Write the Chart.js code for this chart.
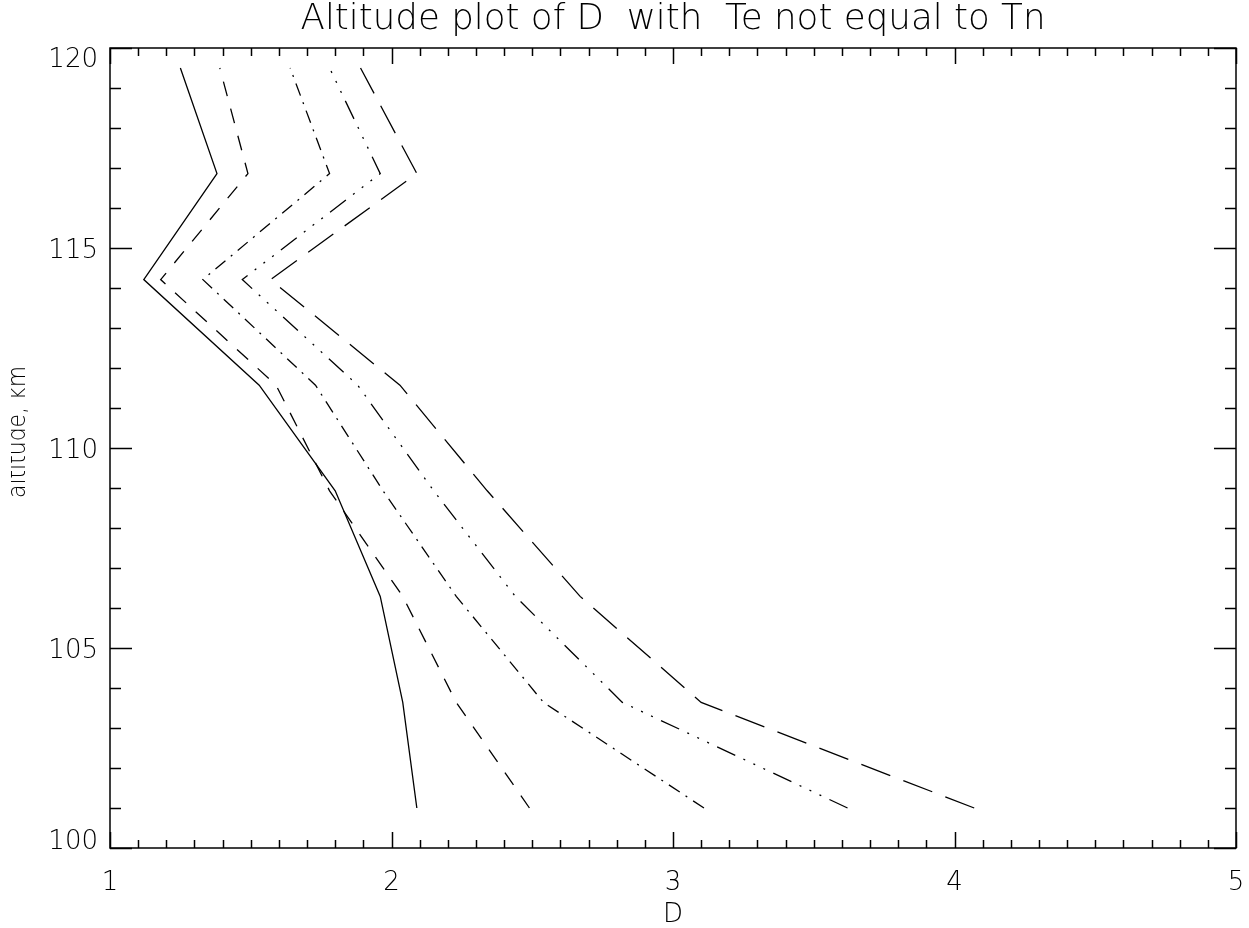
<!DOCTYPE html>
<html>
<head>
<meta charset="utf-8">
<title>Altitude plot of D</title>
<script src="https://cdn.jsdelivr.net/npm/chart.js@4.4.1/dist/chart.umd.min.js"></script>
<style>
  html, body { margin: 0; padding: 0; background: #fff; }
  canvas { display: block; }
</style>
</head>
<body>
<canvas id="graph_D" width="1249" height="928"></canvas>
<script>
/*------------------------------*/
/*            Données           */
/*------------------------------*/
var altitudes = [101.0, 103.64, 106.29, 108.93, 111.57, 114.21, 116.86, 119.5]

var d_solid    = [2.09, 2.04, 1.96, 1.80, 1.53, 1.12, 1.38, 1.25]
var d_dash     = [2.49, 2.23, 2.04, 1.78, 1.59, 1.18, 1.49, 1.39]
var d_dashdot  = [3.11, 2.54, 2.23, 1.97, 1.73, 1.33, 1.78, 1.64]
var d_dash3dot = [3.62, 2.82, 2.44, 2.15, 1.88, 1.47, 1.96, 1.78]
var d_longdash = [4.07, 3.10, 2.67, 2.34, 2.03, 1.57, 2.09, 1.89]

var x_ticks = [1, 2, 3, 4, 5]
var y_ticks = [100, 105, 110, 115, 120]

var FONT = "'DejaVu Sans', 'Liberation Sans', sans-serif"

function serie(label, values, dash) {
    return {
        label: label,
        data: values.map(function (d, i) { return { x: d, y: altitudes[i] } }),
        showLine: true,
        fill: false,
        tension: 0,
        borderColor: '#000',
        backgroundColor: '#000',
        borderWidth: 1.3,
        borderDash: dash,
        pointRadius: 0
    }
}

/*------------------------------*/
/*   Cadre, graduations, textes */
/*------------------------------*/
var cadre = {
    id: 'cadre',
    afterDraw: function (chart) {
        var ctx = chart.ctx
        var a = chart.chartArea
        var sx = chart.scales.x
        var sy = chart.scales.y
        ctx.save()
        ctx.strokeStyle = '#000'
        ctx.lineWidth = 1.5
        ctx.strokeRect(a.left, a.top, a.right - a.left, a.bottom - a.top)

        // graduations vers l'intérieur, 10 par unité en D
        ctx.beginPath()
        for (var i = 0; i <= 40; i++) {
            var px = Math.round(sx.getPixelForValue(1 + i / 10)) + 0.5
            var len = (i % 10 === 0) ? 16 : 8
            ctx.moveTo(px, a.bottom); ctx.lineTo(px, a.bottom - len)
            ctx.moveTo(px, a.top);    ctx.lineTo(px, a.top + len)
        }
        // une graduation par km
        for (var j = 0; j <= 20; j++) {
            var py = Math.round(sy.getPixelForValue(100 + j)) + 0.5
            var l = (j % 5 === 0) ? 22 : 11
            ctx.moveTo(a.left, py);  ctx.lineTo(a.left + l, py)
            ctx.moveTo(a.right, py); ctx.lineTo(a.right - l, py)
        }
        ctx.stroke()

        // étiquettes de l'axe des altitudes
        ctx.fillStyle = '#000'
        ctx.font = '200 26px ' + FONT
        ctx.textAlign = 'right'
        ctx.textBaseline = 'alphabetic'
        y_ticks.forEach(function (v) {
            var py = sy.getPixelForValue(v)
            var base = py + 9.5
            if (v === sy.max) base = py + 19
            if (v === sy.min) base = py + 1
            ctx.fillText(String(v), a.left - 12, base)
        })

        // titre
        ctx.textAlign = 'center'
        ctx.font = '200 36px ' + FONT
        ctx.fillText('Altitude plot of D  with  Te not equal to Tn', (a.left + a.right) / 2, 29, 745)

        // titre vertical, il déborde du bord gauche
        ctx.beginPath()
        ctx.rect(11, 0, 100, chart.height)
        ctx.clip()
        ctx.translate(25, 432)
        ctx.rotate(-Math.PI / 2)
        ctx.font = '200 24px ' + FONT
        ctx.fillText('altitude, km', 0, 0, 132)
        ctx.restore()
    }
}

/*------------------------------*/
/*            Graphe D          */
/*------------------------------*/
var ctx_D = document.getElementById('graph_D').getContext('2d')

var data_D = {
    datasets: [
        serie('solid', d_solid, []),
        serie('dash', d_dash, [15, 13]),
        serie('dash dot', d_dashdot, [13, 7, 2, 7]),
        serie('dash dot dot dot', d_dash3dot, [20, 9, 2, 9, 2, 9, 2, 9]),
        serie('long dash', d_longdash, [31, 14])
    ]
}

var config_D = {
    type: 'scatter',
    data: data_D,
    options: {
        responsive: false,
        animation: false,
        devicePixelRatio: 1,
        layout: { padding: { top: 48, right: 13, left: 0, bottom: 0 } },
        plugins: {
            legend: { display: false },
            tooltip: { enabled: false },
            title: { display: false }
        },
        scales: {
            x: {
                type: 'linear',
                min: 1,
                max: 5,
                afterFit: function (scale) {
                    scale.height = 80
                    scale.paddingLeft = 0
                    scale.paddingRight = 0
                },
                afterBuildTicks: function (scale) {
                    scale.ticks = x_ticks.map(function (v) { return { value: v } })
                },
                grid: { display: false },
                border: { display: false },
                ticks: {
                    color: '#000',
                    padding: 12,
                    maxRotation: 0,
                    font: { family: FONT, size: 26, weight: '200' }
                },
                title: {
                    display: true,
                    text: 'D',
                    color: '#000',
                    padding: { top: 0, bottom: -3 },
                    font: { family: FONT, size: 26, weight: '200' }
                }
            },
            y: {
                type: 'linear',
                min: 100,
                max: 120,
                afterFit: function (scale) { scale.width = 110 },
                grid: { display: false },
                border: { display: false },
                ticks: { display: false, stepSize: 5 }
            }
        }
    },
    plugins: [cadre]
}
var graph_D = new Chart(ctx_D, config_D)
</script>
</body>
</html>
